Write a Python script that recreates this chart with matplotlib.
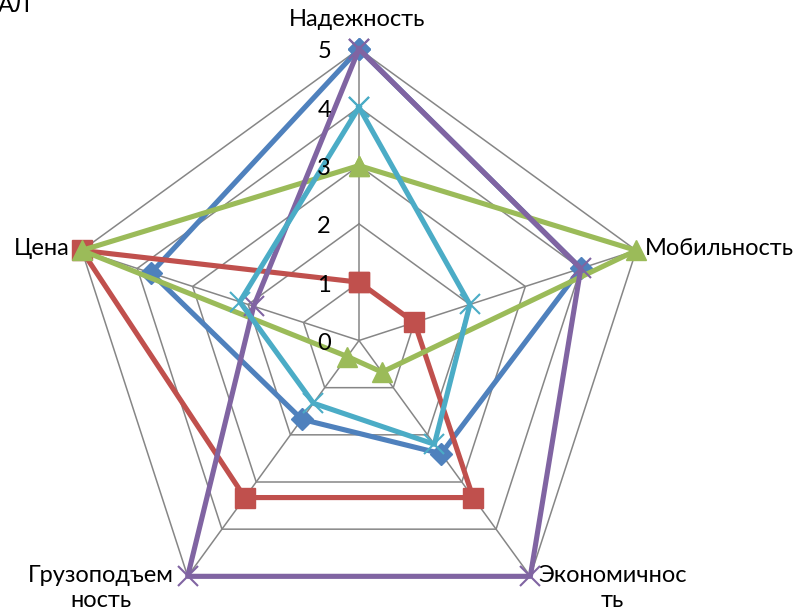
import numpy as np
import matplotlib
matplotlib.use("Agg")
import matplotlib.pyplot as plt

categories = ["Надежность", "Мобильность", "Экономичнос\nть", "Грузоподъем\nность", "Цена"]
series_blue = [5, 4, 2.4, 1.67, 3.75]
series_red = [1, 1, 3.33, 3.33, 5]
series_green = [3, 5, 0.67, 0.34, 5]
series_purple = [5, 4, 5, 5, 1.9]
series_cyan = [4, 2, 2.2, 1.33, 2.15]
tick_values = [0, 1, 2, 3, 4, 5]
title_fragment = "АЛ"

FONT = ["Lato", "DejaVu Sans"]
plt.rcParams["font.family"] = FONT
FS = 17

W, H = 802, 612
fig = plt.figure(figsize=(W / 100, H / 100), dpi=100)
cx, cy, R = 359, 340.5, 291.5
ax = fig.add_axes([(cx - R) / W, (H - cy - R) / H, 2 * R / W, 2 * R / H], projection="polar")
ax.set_theta_offset(np.pi / 2)
ax.set_theta_direction(-1)
ax.set_ylim(0, 5)
ax.set_axis_off()

n = len(categories)
theta = np.arange(n) * 2 * np.pi / n
theta_c = np.concatenate([theta, theta[:1]])

grid_col = "#868686"
for r in tick_values[1:]:
    ax.plot(theta_c, [r] * (n + 1), color=grid_col, lw=1.1, zorder=1, clip_on=False)
for t in theta:
    ax.plot([t, t], [0, tick_values[-1]], color=grid_col, lw=1.1, zorder=1, clip_on=False)

def closed(v):
    return list(v) + [v[0]]

styles = [
    (series_blue, "#4F81BD", "D", 11, dict()),
    (series_red, "#C0504D", "s", 14, dict()),
    (series_green, "#9BBB59", "^", 15, dict()),
    (series_purple, "#8064A2", "x", 14, dict(markeredgewidth=1.5)),
    (series_cyan, "#4BACC6", "x", 14, dict(markeredgewidth=1.5)),
]
for i, (vals, col, mk, ms, extra) in enumerate(styles):
    ax.plot(theta_c, closed(vals), color=col, lw=3.7, marker=mk, markersize=ms,
            markerfacecolor=col, markeredgecolor=col, zorder=3 + i, clip_on=False,
            solid_joinstyle="round", **extra)

# category labels
offsets = [(-2, 29, "center"), (9, 2, "left"), (82, -12, "center"), (-87, -12, "center"), (-12, 2, "right")]
for t, lab, (dx, dy, ha) in zip(theta, categories, offsets):
    ax.annotate(lab, xy=(t, tick_values[-1]), xytext=(dx, dy), textcoords="offset pixels",
                ha=ha, va="center", fontsize=FS, color="black", linespacing=1.25,
                multialignment="center", annotation_clip=False, zorder=20)

# radial tick labels
for r in tick_values:
    ax.annotate(str(r), xy=(0, r), xytext=(-28, -3), textcoords="offset pixels",
                ha="right", va="center", fontsize=FS, color="black",
                annotation_clip=False, zorder=20)

fig.text(-2 / W, 1 - 12 / H, title_fragment, ha="left", va="baseline", fontsize=FS)

fig.savefig("out.png", dpi=100, facecolor="white")
